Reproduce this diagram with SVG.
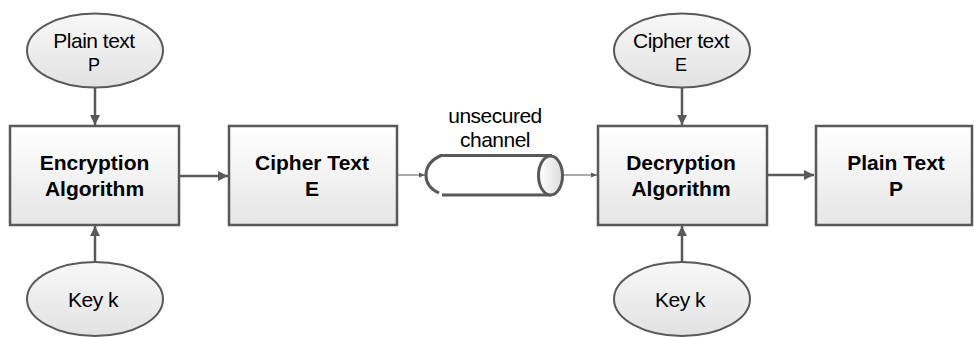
<svg xmlns="http://www.w3.org/2000/svg" width="974" height="337" viewBox="0 0 974 337">
<defs>
<linearGradient id="boxg" x1="0" y1="0" x2="0" y2="1">
<stop offset="0" stop-color="#ffffff"/>
<stop offset="1" stop-color="#e6e6e6"/>
</linearGradient>
<linearGradient id="ellg" x1="0" y1="0" x2="0" y2="1">
<stop offset="0" stop-color="#f8f8f8"/>
<stop offset="1" stop-color="#e2e2e2"/>
</linearGradient>
<linearGradient id="capg" x1="0" y1="0" x2="1" y2="0">
<stop offset="0" stop-color="#ffffff"/>
<stop offset="1" stop-color="#dcdcdc"/>
</linearGradient>
<marker id="ah" viewBox="0 0 10 10" refX="10" refY="5" markerWidth="10" markerHeight="10" markerUnits="userSpaceOnUse" orient="auto">
<path d="M0,0 L10,5 L0,10 Z" fill="#595959"/>
</marker>
<marker id="ahs" viewBox="0 0 10 10" refX="10" refY="5" markerWidth="6" markerHeight="6" markerUnits="userSpaceOnUse" orient="auto">
<path d="M0,1 L10,5 L0,9 Z" fill="#595959"/>
</marker>
</defs>
<style>
.box{fill:url(#boxg);stroke:#595959;stroke-width:2.5}
.ell{fill:url(#ellg);stroke:#595959;stroke-width:2}
.bt{font-family:"Liberation Sans",Arial,sans-serif;font-size:21px;font-weight:bold;fill:#000;text-anchor:middle}
.nt{font-family:"Liberation Sans",Arial,sans-serif;font-size:21px;letter-spacing:-0.5px;fill:#000;text-anchor:middle}
.st{font-family:"Liberation Sans",Arial,sans-serif;font-size:18px;fill:#000;text-anchor:middle}
.thick{stroke:#595959;stroke-width:2.5;fill:none}
.thin{stroke:#595959;stroke-width:1;fill:none}
</style>
<g id="connectors">
<line class="thick" x1="95" y1="88" x2="95" y2="125" marker-end="url(#ah)"/>
<line class="thick" x1="95" y1="262" x2="95" y2="226" marker-end="url(#ah)"/>
<line class="thick" x1="179" y1="176" x2="228" y2="176" marker-end="url(#ah)"/>
<line class="thin" x1="397" y1="175" x2="425" y2="175" marker-end="url(#ahs)"/>
<line class="thin" x1="563" y1="175" x2="597" y2="175" marker-end="url(#ahs)"/>
<line class="thick" x1="682" y1="88" x2="682" y2="125" marker-end="url(#ah)"/>
<line class="thick" x1="682" y1="261" x2="682" y2="226" marker-end="url(#ah)"/>
<line class="thick" x1="767" y1="175" x2="814" y2="175" marker-end="url(#ah)"/>
</g>
<g id="plaintext-in">
<ellipse class="ell" cx="95" cy="50.5" rx="68" ry="37"/>
<text class="nt" x="94" y="48">Plain text</text>
<text class="st" x="94" y="71">P</text>
</g>
<g id="key-enc">
<ellipse class="ell" cx="95" cy="299" rx="68" ry="37"/>
<text class="nt" x="93" y="307">Key k</text>
</g>
<g id="encryption">
<rect class="box" x="10" y="126" width="169" height="99"/>
<text class="bt" x="94.5" y="170">Encryption</text>
<text class="bt" x="94.5" y="196">Algorithm</text>
</g>
<g id="ciphertext-box">
<rect class="box" x="229" y="126" width="168" height="99"/>
<text class="bt" x="312" y="170">Cipher Text</text>
<text class="bt" x="312" y="196">E</text>
</g>
<g id="channel">
<path d="M552,155.5 L441,155.5 Q426,162 426,175.5 Q426,187 439,193" fill="none" stroke="#595959" stroke-width="3"/>
<line x1="442" y1="195" x2="551" y2="195" stroke="#595959" stroke-width="3"/>
<ellipse cx="550.5" cy="175.5" rx="12" ry="19.5" fill="url(#capg)" stroke="#595959" stroke-width="3"/>
<text class="nt" x="495" y="123">unsecured</text>
<text class="nt" x="495" y="147">channel</text>
</g>
<g id="ciphertext-in">
<ellipse class="ell" cx="682" cy="50.5" rx="68" ry="37"/>
<text class="nt" x="681" y="48">Cipher text</text>
<text class="st" x="681" y="71">E</text>
</g>
<g id="key-dec">
<ellipse class="ell" cx="682" cy="299" rx="68" ry="37"/>
<text class="nt" x="680" y="307">Key k</text>
</g>
<g id="decryption">
<rect class="box" x="598" y="126" width="169" height="99"/>
<text class="bt" x="681" y="170">Decryption</text>
<text class="bt" x="681" y="196">Algorithm</text>
</g>
<g id="plaintext-box">
<rect class="box" x="816" y="126" width="156" height="99"/>
<text class="bt" x="896" y="170">Plain Text</text>
<text class="bt" x="896" y="196">P</text>
</g>
</svg>
